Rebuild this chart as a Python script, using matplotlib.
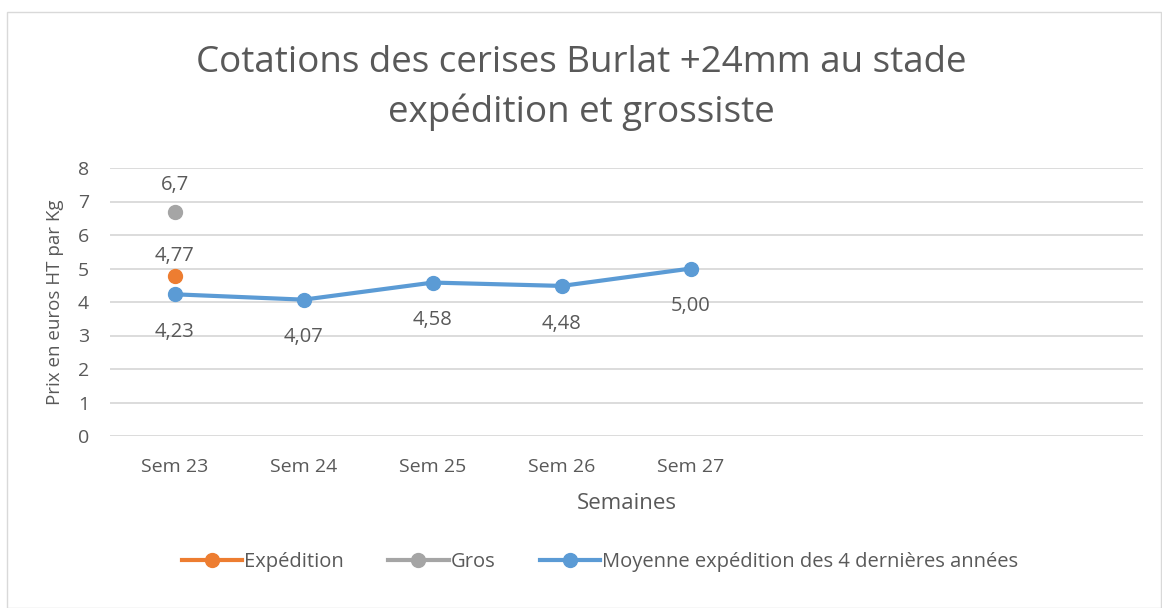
import matplotlib
matplotlib.use("Agg")
import matplotlib.pyplot as plt
from matplotlib.patches import Rectangle
import numpy as np

plt.rcParams['font.family'] = ['Open Sans', 'DejaVu Sans']

categories = ["Sem 23", "Sem 24", "Sem 25", "Sem 26", "Sem 27", "", "", ""]
expedition = [4.77]
gros = [6.7]
moyenne = [4.23, 4.07, 4.58, 4.48, 5.00]
moyenne_labels = ["4,23", "4,07", "4,58", "4,48", "5,00"]
exp_labels = ["4,77"]
gros_labels = ["6,7"]

TXT = "#595959"
fig = plt.figure(figsize=(11.62, 6.08), dpi=100)
fig.patches.append(Rectangle((7/1162, 0), 1 - 7/1162 - 0.0005, 1 - 12/608, transform=fig.transFigure,
                             fill=False, edgecolor="#D9D9D9", linewidth=1.0))
ax = fig.add_axes([110/1162, 1 - 436/608, (1143 - 110)/1162, (436 - 168)/608])

x = np.arange(len(categories))
ax.plot(x[:len(moyenne)], moyenne, color="#5B9BD5", lw=3.0, marker="o", ms=10, label="Moyenne expédition des 4 dernières années", zorder=3)
ax.plot(x[:len(expedition)], expedition, color="#ED7D31", lw=3.0, marker="o", ms=10, label="Expédition", zorder=4)
ax.plot(x[:len(gros)], gros, color="#A5A5A5", lw=3.0, marker="o", ms=10, label="Gros", zorder=4)

LFS = 14.5
for xi, v, l in zip(x, moyenne, moyenne_labels):
    ax.annotate(l, (xi, v), xytext=(0, -20), textcoords="offset points", ha="center", va="top", fontsize=LFS, color=TXT)
for xi, v, l in zip(x, expedition, exp_labels):
    ax.annotate(l, (xi, v), xytext=(0, 7), textcoords="offset points", ha="center", va="bottom", fontsize=LFS, color=TXT)
for xi, v, l in zip(x, gros, gros_labels):
    ax.annotate(l, (xi, v), xytext=(0, 12), textcoords="offset points", ha="center", va="bottom", fontsize=LFS, color=TXT)

ax.set_xlim(-0.5, len(categories) - 0.5)
ax.set_ylim(0, 8)
ax.set_yticks(range(0, 9))
ax.set_xticks(x)
ax.set_xticklabels(categories)
ax.grid(axis="y", color="#D9D9D9", lw=1.3)
ax.set_axisbelow(True)
for s in ax.spines.values():
    s.set_visible(False)
ax.tick_params(length=0, labelsize=14, colors=TXT)
ax.tick_params(axis="y", pad=15)
ax.tick_params(axis="x", pad=16)
ax.set_xlabel("Semaines", fontsize=16, color=TXT, labelpad=12)
ax.set_ylabel("Prix en euros HT par Kg", fontsize=13.5, color=TXT, labelpad=10)

fig.text(0.5, 1 - 88/608, "Cotations des cerises Burlat +24mm au stade\nexpédition et grossiste",
         ha="center", va="center", fontsize=26.5, color=TXT, linespacing=1.42)

handles, labels = ax.get_legend_handles_labels()
order = [1, 2, 0]
fig.legend([handles[i] for i in order], [labels[i] for i in order], loc="center",
           bbox_to_anchor=(600/1162, 1 - 562/608), ncol=3, frameon=False, fontsize=14.5,
           labelcolor=TXT, handlelength=3.0, handletextpad=0.1, columnspacing=2.2)

fig.savefig("out.png", dpi=100)
